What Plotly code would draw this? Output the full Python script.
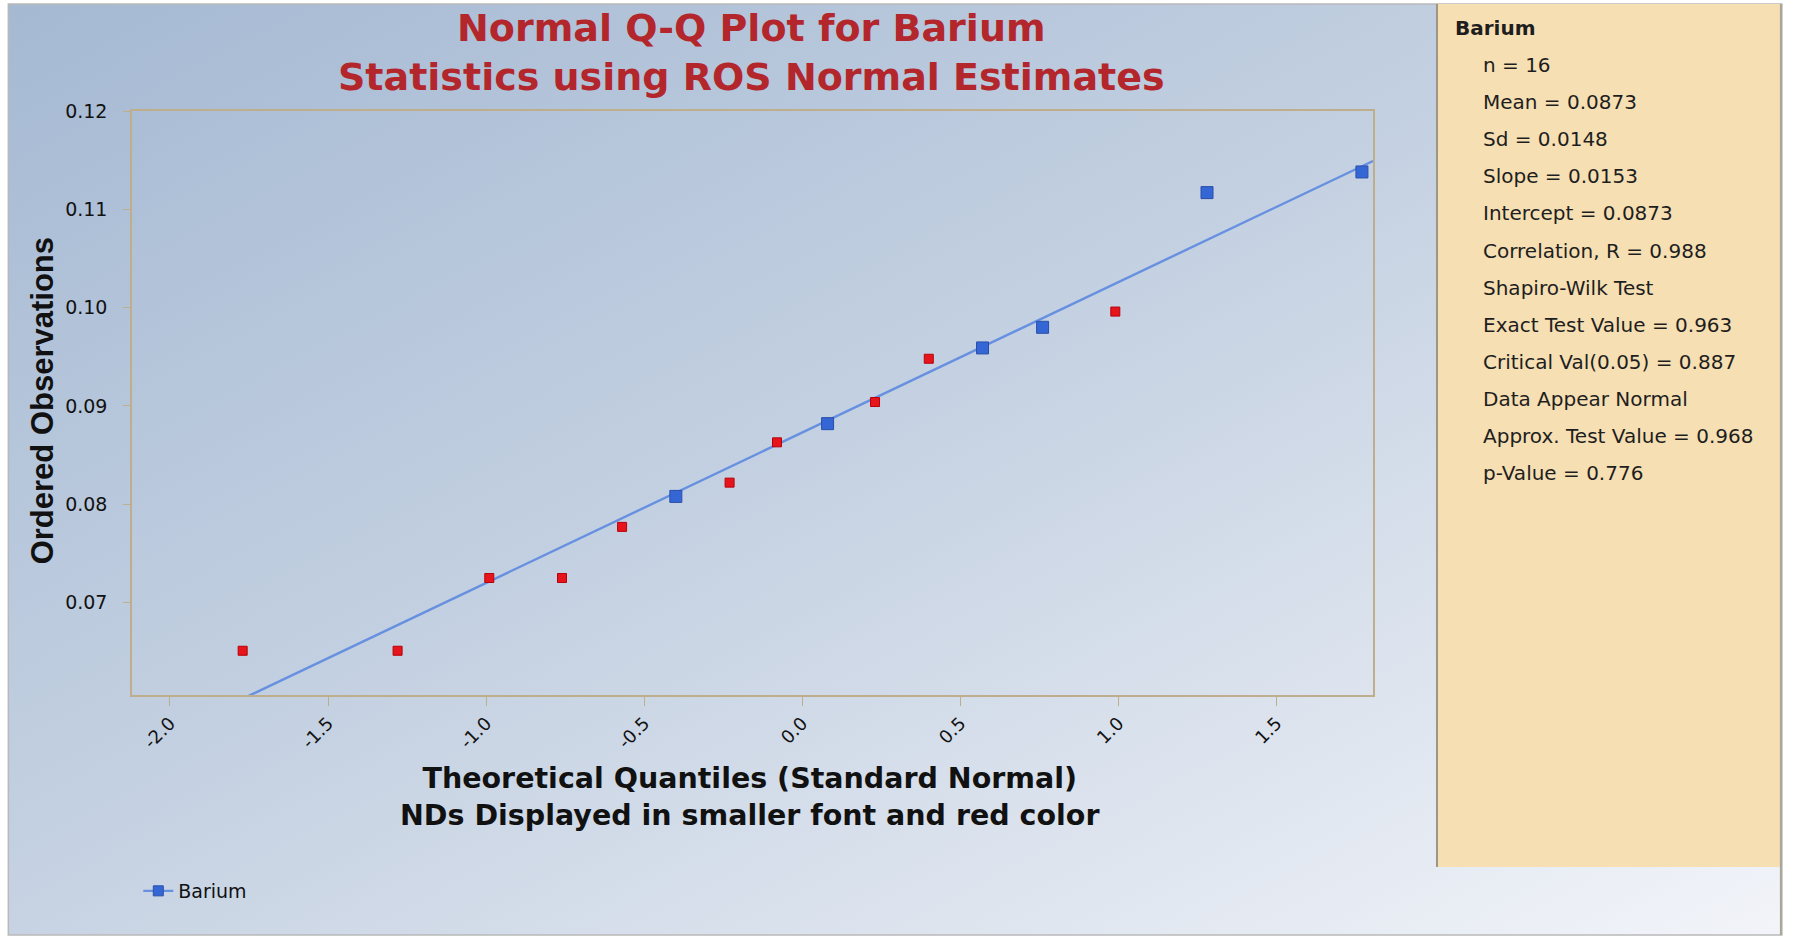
import base64
import plotly.graph_objects as go

# ---------------- data ----------------
theo_quantiles = [-1.77, -1.28, -0.99, -0.76, -0.57, -0.40, -0.23, -0.08,
                  0.08, 0.23, 0.40, 0.57, 0.76, 0.99, 1.28, 1.77]
ordered_obs = [0.0651, 0.0651, 0.0725, 0.0725, 0.0777, 0.0808, 0.0822, 0.0863,
               0.0882, 0.0904, 0.0948, 0.0959, 0.0980, 0.0996, 0.1117, 0.1138]
is_nd = [True, True, True, True, True, False, True, True,
         False, True, True, False, False, True, False, False]

fit_slope = 0.0153
fit_intercept = 0.0873

x_tick_vals = [-2.0, -1.5, -1.0, -0.5, 0.0, 0.5, 1.0, 1.5]
x_tick_text = ["-2.0", "-1.5", "-1.0", "-0.5", "0.0", "0.5", "1.0", "1.5"]
y_tick_vals = [0.07, 0.08, 0.09, 0.10, 0.11, 0.12]
y_tick_text = ["0.07", "0.08", "0.09", "0.10", "0.11", "0.12"]

title_text = "Normal Q-Q Plot for Barium<br>Statistics using ROS Normal Estimates"
x_title_text = "Theoretical Quantiles (Standard Normal)<br>NDs Displayed in smaller font and red color"
y_title_text = "Ordered Observations"
series_name = "Barium"
stats_header = "Barium"
stats_lines = ["n = 16", "Mean = 0.0873", "Sd = 0.0148", "Slope = 0.0153",
               "Intercept = 0.0873", "Correlation, R = 0.988", "Shapiro-Wilk Test",
               "Exact Test Value = 0.963", "Critical Val(0.05) = 0.887",
               "Data Appear Normal", "Approx. Test Value = 0.968", "p-Value = 0.776"]

# ---------------- geometry ----------------
W, H = 1793, 937
PL, PR, PT, PB = 131.7, 1373.0, 111.0, 695.0
X_RANGE = [-2.12, 1.805]
Y_RANGE = [0.0606, 0.12]


def px(x):
    return (x - PL) / (PR - PL)


def py(y):
    return (PB - y) / (PB - PT)


# ---------------- traces ----------------
det_x = [x for x, nd in zip(theo_quantiles, is_nd) if not nd]
det_y = [y for y, nd in zip(ordered_obs, is_nd) if not nd]
nd_x = [x for x, nd in zip(theo_quantiles, is_nd) if nd]
nd_y = [y for y, nd in zip(ordered_obs, is_nd) if nd]

line_x = [X_RANGE[0], X_RANGE[1]]
line_y = [fit_intercept + fit_slope * v for v in line_x]

LINE_COLOR = "#6790e0"
BLUE = "#3566d6"
RED = "#e5151b"

fig = go.Figure()
fig.add_trace(go.Scatter(x=line_x, y=line_y, mode="lines",
                         line=dict(color=LINE_COLOR, width=2.4),
                         showlegend=False, hoverinfo="skip"))
fig.add_trace(go.Scatter(x=nd_x, y=nd_y, mode="markers",
                         marker=dict(symbol="square", size=9, color=RED,
                                     line=dict(color="#b8000a", width=1)),
                         showlegend=False))
fig.add_trace(go.Scatter(x=det_x, y=det_y, mode="markers",
                         marker=dict(symbol="square", size=12, color=BLUE,
                                     line=dict(color="#2a4fa8", width=1)),
                         showlegend=False))
# legend entry (line + square marker)
fig.add_trace(go.Scatter(x=[None], y=[None], mode="lines+markers", name=series_name,
                         line=dict(color=LINE_COLOR, width=2.4),
                         marker=dict(symbol="square", size=10, color=BLUE,
                                     line=dict(color="#2a4fa8", width=1))))

# ---------------- background gradient ----------------
FX0, FY0, FX1, FY1 = 8, 4, 1782, 935
svg = f'''<svg xmlns="http://www.w3.org/2000/svg" width="{FX1-FX0}" height="{FY1-FY0}" preserveAspectRatio="none">
<defs><linearGradient id="g" x1="0" y1="0" x2="1" y2="1">
<stop offset="0" stop-color="#a5b9d3"/>
<stop offset="0.45" stop-color="#c3d0e1"/>
<stop offset="1" stop-color="#f2f4f9"/>
</linearGradient></defs>
<rect x="0" y="0" width="{FX1-FX0}" height="{FY1-FY0}" fill="url(#g)"/>
</svg>'''
svg_uri = "data:image/svg+xml;base64," + base64.b64encode(svg.encode()).decode()

images = [dict(source=svg_uri, xref="paper", yref="paper",
               x=px(FX0), y=py(FY0), sizex=px(FX1) - px(FX0), sizey=py(FY0) - py(FY1),
               xanchor="left", yanchor="top", sizing="stretch", layer="below")]

# ---------------- shapes ----------------
PANEL_X0, PANEL_X1, PANEL_Y0, PANEL_Y1 = 1437, 1781, 4, 867
shapes = [
    dict(type="rect", xref="paper", yref="paper",
         x0=px(FX0), x1=px(FX1), y0=py(FY1), y1=py(FY0),
         line=dict(color="#b9b9b9", width=1.5), fillcolor="rgba(0,0,0,0)", layer="below"),
    dict(type="rect", xref="paper", yref="paper",
         x0=px(PANEL_X0), x1=px(PANEL_X1), y0=py(PANEL_Y1), y1=py(PANEL_Y0),
         line=dict(width=0), fillcolor="#f6dfb3", layer="below"),
    dict(type="line", xref="paper", yref="paper",
         x0=px(PANEL_X0), x1=px(PANEL_X0), y0=py(PANEL_Y1), y1=py(PANEL_Y0),
         line=dict(color="#9e9684", width=2)),
    dict(type="line", xref="paper", yref="paper",
         x0=px(PANEL_X1), x1=px(PANEL_X1), y0=py(FY1), y1=py(PANEL_Y0),
         line=dict(color="#aaa597", width=2)),
]

# ---------------- annotations ----------------
HFONT = "DejaVu Sans"
annotations = [
    dict(text=title_text, xref="paper", yref="paper", x=px(751), y=py(53), xanchor="center",
         yanchor="middle", showarrow=False,
         font=dict(family=HFONT, size=38, color="#b3262b", weight="bold")),
    dict(text=x_title_text, xref="paper", yref="paper", x=px(750), y=py(797), xanchor="center",
         yanchor="middle", showarrow=False,
         font=dict(family=HFONT, size=28.5, color="#111111", weight="bold")),
    dict(text=y_title_text, xref="paper", yref="paper", x=px(42), y=py(401), xanchor="center",
         yanchor="middle", showarrow=False, textangle=-90,
         font=dict(family="Liberation Sans", size=31, color="#111111", weight="bold")),
    dict(text=stats_header, xref="paper", yref="paper", x=px(1453), y=py(28), xanchor="left",
         yanchor="middle", showarrow=False,
         font=dict(family=HFONT, size=20, color="#1e1e1e", weight="bold")),
]
for i, s in enumerate(stats_lines):
    annotations.append(dict(text=s, xref="paper", yref="paper", x=px(1481), y=py(65 + 37.1 * i),
                            xanchor="left", yanchor="middle", showarrow=False,
                            font=dict(family=HFONT, size=20, color="#1e1e1e")))

AXCOL = "#bfae8c"
fig.update_layout(
    width=W, height=H, autosize=False,
    margin=dict(l=PL, r=W - PR, t=PT, b=H - PB, pad=0),
    paper_bgcolor="white", plot_bgcolor="rgba(0,0,0,0)",
    images=images, shapes=shapes, annotations=annotations,
    showlegend=True,
    legend=dict(x=px(138), y=py(891), xanchor="left", yanchor="middle",
                bgcolor="rgba(0,0,0,0)", itemwidth=30,
                font=dict(family=HFONT, size=19, color="#111111")),
    xaxis=dict(range=X_RANGE, tickvals=x_tick_vals, ticktext=x_tick_text, tickangle=-45,
               showgrid=False, zeroline=False, showline=True, mirror=True,
               linecolor=AXCOL, linewidth=1.5, ticks="outside", ticklen=9,
               tickcolor=AXCOL, tickwidth=1.2,
               tickfont=dict(family=HFONT, size=18, color="#111111")),
    yaxis=dict(range=Y_RANGE, tickvals=y_tick_vals, ticktext=y_tick_text,
               showgrid=False, zeroline=False, showline=True, mirror=True,
               linecolor=AXCOL, linewidth=1.5, ticks="outside", ticklen=7,
               tickcolor=AXCOL, tickwidth=1.2, ticklabelstandoff=12,
               tickfont=dict(family=HFONT, size=19, color="#111111")),
)

fig.write_html("out.html")
